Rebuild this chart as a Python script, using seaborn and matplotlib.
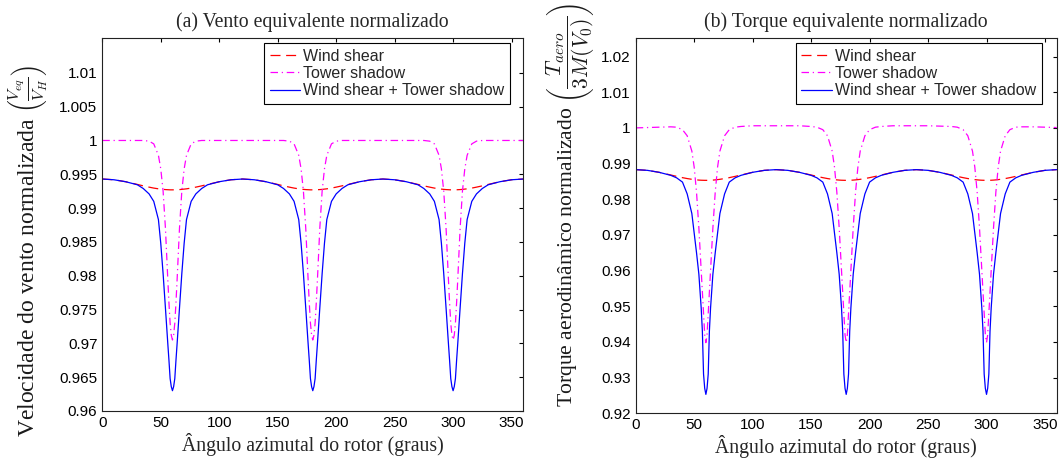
import matplotlib
matplotlib.use("Agg")
import matplotlib.pyplot as plt
import seaborn as sns
from matplotlib.ticker import FuncFormatter

# ---------------- data ----------------
angles = [0, 10, 20, 30, 35, 40, 44, 48, 50, 52, 54, 56, 57, 58, 59, 60, 61, 62, 63, 64, 66, 68, 70, 72, 76, 80, 85, 90, 100, 110,
          120, 130, 140, 150, 155, 160, 164, 168, 170, 172, 174, 176, 177, 178, 179, 180, 181, 182, 183, 184, 186, 188, 190, 192, 196, 200, 205, 210, 220, 230,
          240, 250, 260, 270, 275, 280, 284, 288, 290, 292, 294, 296, 297, 298, 299, 300, 301, 302, 303, 304, 306, 308, 310, 312, 316, 320, 325, 330, 340, 350,
          360]

# (a) normalised equivalent wind
wind_shear_a = [0.99430, 0.99419, 0.99390, 0.99350, 0.99329, 0.99310, 0.99296, 0.99285, 0.99281, 0.99277, 0.99274, 0.99272, 0.99271, 0.99270, 0.99270,
                0.99270, 0.99270, 0.99270, 0.99271, 0.99272, 0.99274, 0.99277, 0.99281, 0.99285, 0.99296, 0.99310, 0.99329, 0.99350, 0.99390, 0.99419,
                0.99430, 0.99419, 0.99390, 0.99350, 0.99329, 0.99310, 0.99296, 0.99285, 0.99281, 0.99277, 0.99274, 0.99272, 0.99271, 0.99270, 0.99270,
                0.99270, 0.99270, 0.99270, 0.99271, 0.99272, 0.99274, 0.99277, 0.99281, 0.99285, 0.99296, 0.99310, 0.99329, 0.99350, 0.99390, 0.99419,
                0.99430, 0.99419, 0.99390, 0.99350, 0.99329, 0.99310, 0.99296, 0.99285, 0.99281, 0.99277, 0.99274, 0.99272, 0.99271, 0.99270, 0.99270,
                0.99270, 0.99270, 0.99270, 0.99271, 0.99272, 0.99274, 0.99277, 0.99281, 0.99285, 0.99296, 0.99310, 0.99329, 0.99350, 0.99390, 0.99419,
                0.99430]
tower_shadow_a = [1.0000, 1.0000, 1.0000, 1.0000, 1.0000, 0.9999, 0.9995, 0.9978, 0.9958, 0.9925, 0.9870, 0.9795, 0.9760, 0.9730, 0.9712,
                  0.9705, 0.9712, 0.9730, 0.9760, 0.9795, 0.9870, 0.9925, 0.9958, 0.9978, 0.9995, 0.9999, 1.0000, 1.0000, 1.0000, 1.0000,
                  1.0000, 1.0000, 1.0000, 1.0000, 1.0000, 0.9999, 0.9995, 0.9978, 0.9958, 0.9925, 0.9870, 0.9795, 0.9760, 0.9730, 0.9712,
                  0.9705, 0.9712, 0.9730, 0.9760, 0.9795, 0.9870, 0.9925, 0.9958, 0.9978, 0.9995, 0.9999, 1.0000, 1.0000, 1.0000, 1.0000,
                  1.0000, 1.0000, 1.0000, 1.0000, 1.0000, 0.9999, 0.9995, 0.9978, 0.9958, 0.9925, 0.9870, 0.9795, 0.9760, 0.9730, 0.9712,
                  0.9705, 0.9712, 0.9730, 0.9760, 0.9795, 0.9870, 0.9925, 0.9958, 0.9978, 0.9995, 0.9999, 1.0000, 1.0000, 1.0000, 1.0000,
                  1.0000]
combined_a = [0.99430, 0.99419, 0.99390, 0.99345, 0.99290, 0.99210, 0.99100, 0.98830, 0.98480, 0.98030, 0.97520, 0.97000, 0.96750, 0.96480, 0.96360,
              0.96300, 0.96360, 0.96480, 0.96750, 0.97000, 0.97520, 0.98030, 0.98480, 0.98830, 0.99100, 0.99210, 0.99290, 0.99345, 0.99390, 0.99419,
              0.99430, 0.99419, 0.99390, 0.99345, 0.99290, 0.99210, 0.99100, 0.98830, 0.98480, 0.98030, 0.97520, 0.97000, 0.96750, 0.96480, 0.96360,
              0.96300, 0.96360, 0.96480, 0.96750, 0.97000, 0.97520, 0.98030, 0.98480, 0.98830, 0.99100, 0.99210, 0.99290, 0.99345, 0.99390, 0.99419,
              0.99430, 0.99419, 0.99390, 0.99345, 0.99290, 0.99210, 0.99100, 0.98830, 0.98480, 0.98030, 0.97520, 0.97000, 0.96750, 0.96480, 0.96360,
              0.96300, 0.96360, 0.96480, 0.96750, 0.97000, 0.97520, 0.98030, 0.98480, 0.98830, 0.99100, 0.99210, 0.99290, 0.99345, 0.99390, 0.99419,
              0.99430]

# (b) normalised equivalent torque
wind_shear_b = [0.98830, 0.98810, 0.98755, 0.98680, 0.98641, 0.98605, 0.98580, 0.98559, 0.98550, 0.98543, 0.98537, 0.98533, 0.98532, 0.98531, 0.98530,
                0.98530, 0.98530, 0.98531, 0.98532, 0.98533, 0.98537, 0.98543, 0.98550, 0.98559, 0.98580, 0.98605, 0.98641, 0.98680, 0.98755, 0.98810,
                0.98830, 0.98810, 0.98755, 0.98680, 0.98641, 0.98605, 0.98580, 0.98559, 0.98550, 0.98543, 0.98537, 0.98533, 0.98532, 0.98531, 0.98530,
                0.98530, 0.98530, 0.98531, 0.98532, 0.98533, 0.98537, 0.98543, 0.98550, 0.98559, 0.98580, 0.98605, 0.98641, 0.98680, 0.98755, 0.98810,
                0.98830, 0.98810, 0.98755, 0.98680, 0.98641, 0.98605, 0.98580, 0.98559, 0.98550, 0.98543, 0.98537, 0.98533, 0.98532, 0.98531, 0.98530,
                0.98530, 0.98530, 0.98531, 0.98532, 0.98533, 0.98537, 0.98543, 0.98550, 0.98559, 0.98580, 0.98605, 0.98641, 0.98680, 0.98755, 0.98810,
                0.98830]
tower_shadow_b = [1.0000, 1.0001, 1.0002, 1.0003, 1.0002, 0.9995, 0.9978, 0.9935, 0.9890, 0.9820, 0.9720, 0.9600, 0.9540, 0.9480, 0.9420,
                  0.9398, 0.9420, 0.9480, 0.9540, 0.9600, 0.9720, 0.9820, 0.9890, 0.9935, 0.9978, 0.9995, 1.0002, 1.0004, 1.0006, 1.0006,
                  1.0006, 1.0006, 1.0006, 1.0004, 1.0002, 0.9995, 0.9978, 0.9935, 0.9890, 0.9820, 0.9720, 0.9600, 0.9540, 0.9480, 0.9420,
                  0.9398, 0.9420, 0.9480, 0.9540, 0.9600, 0.9720, 0.9820, 0.9890, 0.9935, 0.9978, 0.9995, 1.0002, 1.0004, 1.0006, 1.0006,
                  1.0006, 1.0006, 1.0005, 1.0004, 1.0002, 0.9995, 0.9978, 0.9935, 0.9890, 0.9820, 0.9720, 0.9600, 0.9540, 0.9480, 0.9420,
                  0.9398, 0.9420, 0.9480, 0.9540, 0.9600, 0.9720, 0.9820, 0.9890, 0.9935, 0.9978, 0.9995, 1.0002, 1.0003, 1.0003, 1.0002,
                  1.0001]
combined_b = [0.98830, 0.98810, 0.98755, 0.98670, 0.98600, 0.98480, 0.98150, 0.97600, 0.97050, 0.96500, 0.95900, 0.94950, 0.94300, 0.93100, 0.92700,
              0.92530, 0.92700, 0.93100, 0.94300, 0.94950, 0.95900, 0.96500, 0.97050, 0.97600, 0.98150, 0.98480, 0.98600, 0.98670, 0.98755, 0.98810,
              0.98830, 0.98810, 0.98755, 0.98670, 0.98600, 0.98480, 0.98150, 0.97600, 0.97050, 0.96500, 0.95900, 0.94950, 0.94300, 0.93100, 0.92700,
              0.92530, 0.92700, 0.93100, 0.94300, 0.94950, 0.95900, 0.96500, 0.97050, 0.97600, 0.98150, 0.98480, 0.98600, 0.98670, 0.98755, 0.98810,
              0.98830, 0.98810, 0.98755, 0.98670, 0.98600, 0.98480, 0.98150, 0.97600, 0.97050, 0.96500, 0.95900, 0.94950, 0.94300, 0.93100, 0.92700,
              0.92530, 0.92700, 0.93100, 0.94300, 0.94950, 0.95900, 0.96500, 0.97050, 0.97600, 0.98150, 0.98480, 0.98600, 0.98670, 0.98755, 0.98810,
              0.98830]

series_labels = ["Wind shear", "Tower shadow", "Wind shear + Tower shadow"]
titles = ["(a) Vento equivalente normalizado", "(b) Torque equivalente normalizado"]
xlabel = "Ângulo azimutal do rotor (graus)"
ylabels = [r"Velocidade do vento normalizada $\left(\frac{V_{eq}}{V_H}\right)$",
           r"Torque aerodinâmico normalizado $\left(\dfrac{T_{aero}}{3M(V_0)}\right)$"]
xticks = [0, 50, 100, 150, 200, 250, 300, 350]
yticks_a = [0.96, 0.965, 0.97, 0.975, 0.98, 0.985, 0.99, 0.995, 1.0, 1.005, 1.01]
yticks_b = [0.92, 0.93, 0.94, 0.95, 0.96, 0.97, 0.98, 0.99, 1.0, 1.01, 1.02]

# ---------------- style ----------------
sns.set_style("white")
plt.rcParams["font.family"] = ["Liberation Sans", "DejaVu Sans"]
plt.rcParams["mathtext.fontset"] = "cm"
plt.rcParams["axes.unicode_minus"] = False
serif = ["Liberation Serif", "DejaVu Serif"]

colors = ["#ff0000", "#ff00ff", "#0000ff"]
styles = [(0, (8, 4.5)), (0, (6, 3, 1, 3)), "-"]

fig = plt.figure(figsize=(10.59, 4.59), dpi=100)
ax_a = fig.add_axes([0.0966, 0.1046, 0.3975, 0.8133])
ax_b = fig.add_axes([0.6003, 0.0996, 0.3975, 0.8176])

panels = [
    (ax_a, [wind_shear_a, tower_shadow_a, combined_a], yticks_a, (0.96, 1.0152), (0.9684, 0.9858),
     (-0.160, -0.0697), 17.0),
    (ax_b, [wind_shear_b, tower_shadow_b, combined_b], yticks_b, (0.92, 1.0252), (0.9644, 0.9867),
     (-0.148, 0.018), 15.6),
]

fmt = FuncFormatter(lambda v, p: ("%g" % round(v, 4)))

for i, (ax, ys, yt, ylim, leg_anchor, lab_xy, lab_fs) in enumerate(panels):
    for y, lab, c, ls in zip(ys, series_labels, colors, styles):
        sns.lineplot(x=angles, y=y, ax=ax, color=c, linestyle=ls, linewidth=0.9,
                     label=lab, sort=False, estimator=None)
    ax.set_xlim(0, 360)
    ax.set_ylim(*ylim)
    ax.set_xticks(xticks)
    ax.set_yticks(yt)
    ax.yaxis.set_major_formatter(fmt)
    ax.tick_params(direction="in", top=True, right=True, length=3, width=0.8,
                   labelsize=11, pad=3.5, colors="black")
    for sp in ax.spines.values():
        sp.set_color("#222222")
        sp.set_linewidth(0.8)
    ax.set_title(titles[i], family=serif, fontsize=14.2, pad=8)
    ax.set_xlabel(xlabel, family=serif, fontsize=14.2, labelpad=2)
    ax.set_ylabel(ylabels[i], family=serif, fontsize=lab_fs, color="#1a1a1a")
    ax.yaxis.set_label_coords(*lab_xy)
    ax.yaxis.label.set_horizontalalignment("left")
    ax.yaxis.label.set_verticalalignment("baseline")
    leg = ax.legend(loc="upper right", bbox_to_anchor=leg_anchor, borderaxespad=0,
                    fontsize=11.5, frameon=True, fancybox=False, shadow=False,
                    framealpha=1, edgecolor="black", handlelength=1.9,
                    handletextpad=0.2, labelspacing=0.15, borderpad=0.35)
    leg.get_frame().set_linewidth(0.8)

fig.savefig("out.png", dpi=100)
